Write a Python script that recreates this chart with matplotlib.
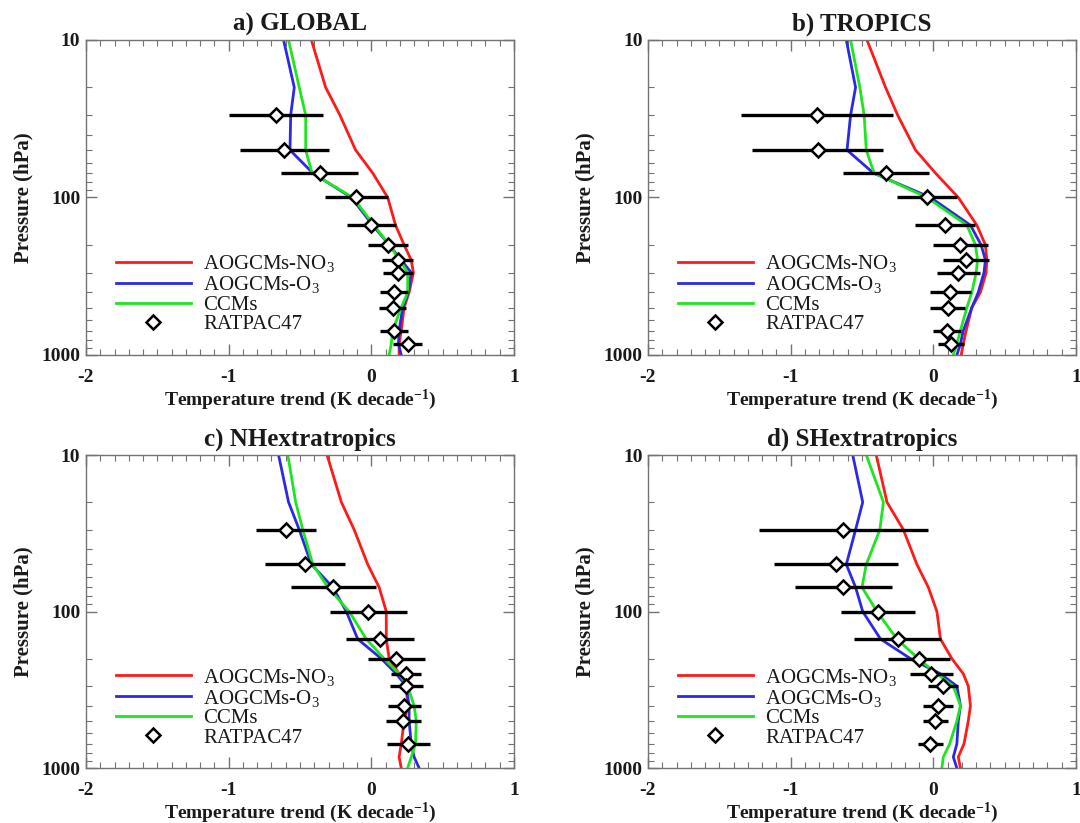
import numpy as np
import matplotlib
matplotlib.use('Agg')
import matplotlib.pyplot as plt
from matplotlib.ticker import MultipleLocator, FixedLocator, FixedFormatter, NullFormatter

plt.rcParams['font.family'] = ['Liberation Serif', 'DejaVu Serif']
plt.rcParams['mathtext.fontset'] = 'custom'
plt.rcParams['mathtext.rm'] = 'Liberation Serif'
plt.rcParams['mathtext.it'] = 'Liberation Serif:italic'
plt.rcParams['mathtext.bf'] = 'Liberation Serif:bold'
plt.rcParams['axes.unicode_minus'] = False

# model pressure levels (hPa) and radiosonde levels
lev = [10, 20, 30, 50, 70, 100, 150, 200, 250, 300, 400, 500, 700, 850, 1000]
obs_lev = [30, 50, 70, 100, 150, 200, 250, 300, 400, 500, 700, 850]

titles = ['a) GLOBAL', 'b) TROPICS', 'c) NHextratropics', 'd) SHextratropics']

# AOGCMs with no ozone forcing
nno3 = [
    [-0.42, -0.32, -0.22, -0.11, 0.01, 0.115, 0.17, 0.23, 0.28, 0.295, 0.265, 0.23, 0.21, 0.195, 0.195],
    [-0.465, -0.335, -0.25, -0.125, 0.015, 0.175, 0.305, 0.365, 0.375, 0.37, 0.33, 0.27, 0.23, 0.21, 0.195],
    [-0.31, -0.21, -0.12, -0.025, 0.055, 0.105, 0.105, 0.125, 0.195, 0.245, 0.255, 0.23, 0.21, 0.195, 0.21],
    [-0.40, -0.325, -0.21, -0.115, -0.035, 0.025, 0.05, 0.13, 0.21, 0.245, 0.26, 0.245, 0.215, 0.175, 0.19],
]
# AOGCMs with ozone forcing
o3 = [
    [-0.615, -0.54, -0.565, -0.57, -0.41, -0.14, 0.01, 0.125, 0.21, 0.28, 0.26, 0.22, 0.195, 0.19, 0.21],
    [-0.61, -0.545, -0.58, -0.605, -0.42, -0.02, 0.26, 0.335, 0.365, 0.355, 0.315, 0.27, 0.21, 0.19, 0.165],
    [-0.65, -0.58, -0.505, -0.42, -0.27, -0.175, -0.095, 0.07, 0.175, 0.245, 0.265, 0.265, 0.28, 0.30, 0.335],
    [-0.565, -0.495, -0.545, -0.61, -0.545, -0.495, -0.37, -0.16, 0.05, 0.165, 0.19, 0.175, 0.165, 0.14, 0.165],
]
# chemistry-climate models
ccm = [
    [-0.58, -0.505, -0.46, -0.46, -0.415, -0.13, 0.02, 0.125, 0.20, 0.255, 0.255, 0.21, 0.15, 0.14, 0.125],
    [-0.58, -0.515, -0.485, -0.47, -0.415, -0.045, 0.235, 0.295, 0.31, 0.30, 0.27, 0.235, 0.19, 0.165, 0.14],
    [-0.585, -0.53, -0.48, -0.41, -0.305, -0.155, -0.035, 0.09, 0.195, 0.255, 0.30, 0.315, 0.31, 0.28, 0.255],
    [-0.47, -0.35, -0.375, -0.47, -0.50, -0.395, -0.255, -0.105, 0.025, 0.14, 0.19, 0.165, 0.115, 0.07, 0.06],
]
# RATPAC47 trends and uncertainty half-widths (NaN where missing)
rat = [
    [-0.67, -0.61, -0.36, -0.105, 0.0, 0.12, 0.185, 0.19, 0.16, 0.15, 0.16, 0.255],
    [-0.815, -0.81, -0.33, -0.045, 0.08, 0.19, 0.23, 0.175, 0.12, 0.10, 0.095, 0.125],
    [-0.60, -0.465, -0.265, -0.02, 0.06, 0.175, 0.24, 0.245, 0.23, 0.225, 0.26, np.nan],
    [-0.63, -0.68, -0.63, -0.39, -0.25, -0.10, -0.015, 0.065, 0.035, 0.015, -0.02, np.nan],
]
rat_err = [
    [0.33, 0.31, 0.27, 0.22, 0.17, 0.14, 0.11, 0.105, 0.10, 0.095, 0.10, 0.10],
    [0.535, 0.46, 0.30, 0.21, 0.21, 0.19, 0.16, 0.15, 0.145, 0.12, 0.10, 0.09],
    [0.21, 0.28, 0.30, 0.27, 0.24, 0.20, 0.105, 0.115, 0.115, 0.125, 0.15, np.nan],
    [0.59, 0.435, 0.34, 0.26, 0.305, 0.22, 0.15, 0.105, 0.105, 0.085, 0.09, np.nan],
]

fig = plt.figure(figsize=(10.8, 8.23), dpi=100)
boxes = [[0.0796, 0.5687, 0.3963, 0.3827],
         [0.6000, 0.5687, 0.3963, 0.3827],
         [0.0796, 0.0668, 0.3963, 0.3803],
         [0.6000, 0.0668, 0.3963, 0.3803]]

txt = '#1a1a1a'
for i in range(4):
    ax = fig.add_axes(boxes[i])
    ax.plot(nno3[i], lev, color='#ff1a1a', lw=2, label=r'AOGCMs-NO$_3$')
    ax.plot(o3[i], lev, color='#2a2ae6', lw=2, label=r'AOGCMs-O$_3$')
    ax.plot(ccm[i], lev, color='#1ee61e', lw=2, label='CCMs')
    ax.errorbar(rat[i], obs_lev, xerr=rat_err[i], fmt='none', ecolor='black',
                elinewidth=2.4, capsize=0, zorder=4)
    ax.plot(rat[i], obs_lev, 'D', ms=7, mfc='white', mec='black', mew=1.8,
            ls='none', zorder=5, label='RATPAC47')

    ax.set_yscale('log')
    ax.set_ylim(1000, 10)
    ax.set_xlim(-2, 1)
    ax.yaxis.set_major_locator(FixedLocator([10, 100, 1000]))
    ax.yaxis.set_major_formatter(FixedFormatter(['10', '100', '1000']))
    ax.yaxis.set_minor_formatter(NullFormatter())
    ax.xaxis.set_major_locator(MultipleLocator(1))
    ax.xaxis.set_minor_locator(MultipleLocator(0.1))
    ax.tick_params(which='both', direction='in', top=True, right=True,
                   color='0.45', labelsize=14, labelcolor=txt)
    ax.tick_params(axis='x', pad=10)
    ax.tick_params(axis='y', pad=4)
    ax.tick_params(which='major', length=8, width=1)
    ax.tick_params(which='minor', length=4, width=0.8)
    for lab in ax.get_xticklabels() + ax.get_yticklabels():
        lab.set_fontweight('bold')
    for sp in ax.spines.values():
        sp.set_color('0.45')
        sp.set_linewidth(1)

    ax.set_title(titles[i], fontsize=18, fontweight='bold', color=txt, pad=7)
    ax.set_ylabel('Pressure (hPa)', fontsize=15, fontweight='bold', color=txt, labelpad=6)
    ax.set_xlabel(r'Temperature trend (K decade$^{\mathbf{-1}}$)', fontsize=14,
                  fontweight='bold', color=txt, labelpad=1)
    ax.legend(loc='lower left', bbox_to_anchor=(0.07, 0.065), frameon=False,
              fontsize=15, handlelength=3.6, handletextpad=0.6,
              labelspacing=0.0, borderpad=0, borderaxespad=0, labelcolor=txt)

fig.savefig('out.png', dpi=100)
